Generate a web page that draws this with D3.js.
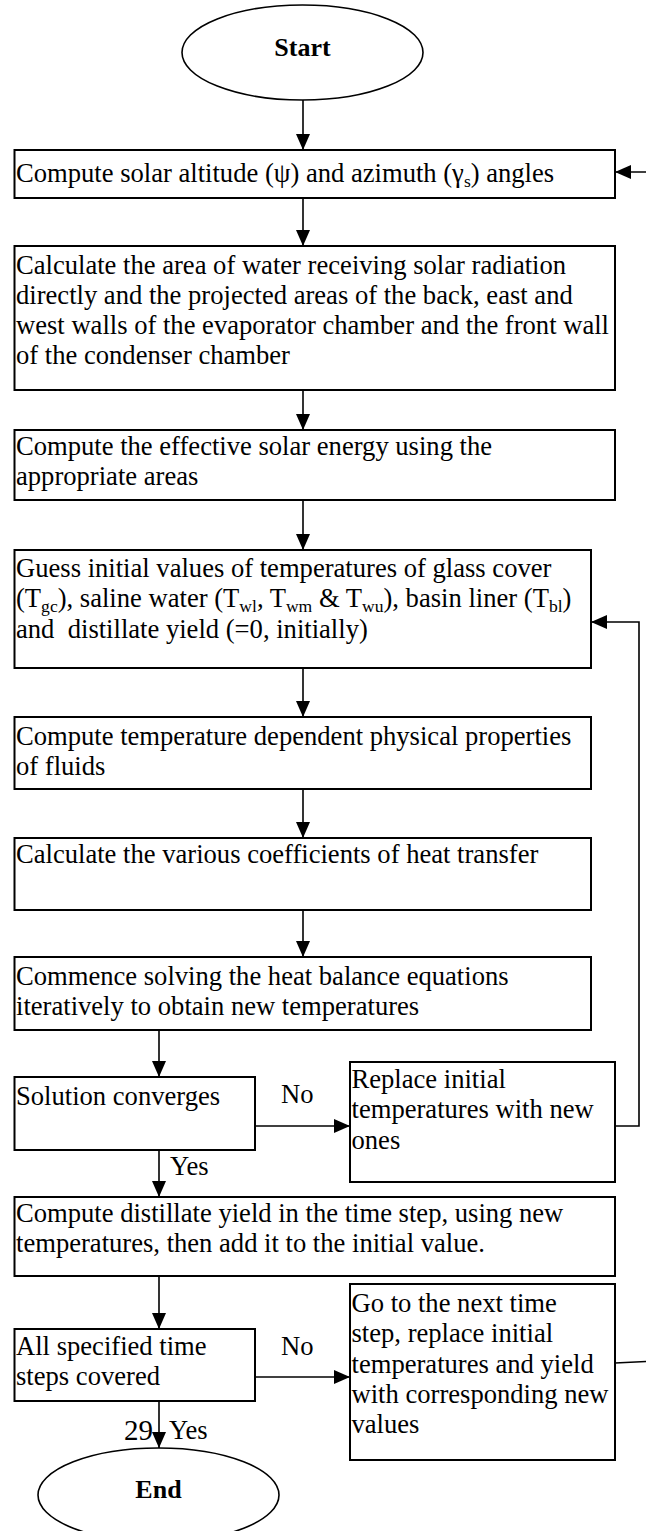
<!DOCTYPE html>
<html><head><meta charset="utf-8">
<script src="https://cdn.jsdelivr.net/npm/d3@7"></script>
<style>body{margin:0;background:#fff}svg{display:block}</style>
</head><body>
<script>
// ---- content ----
const terminalLabels = ["Start", "End"];
const stepLines = [
  ["Compute solar altitude (\u03C8) and azimuth (\u03B3_{s}) angles"],
  ["Calculate the area of water receiving solar radiation", "directly and the projected areas of the back, east and", "west walls of the evaporator chamber and the front wall", "of the condenser chamber"],
  ["Compute the effective solar energy using the", "appropriate areas"],
  ["Guess initial values of temperatures of glass cover", "(T_{gc}), saline water (T_{wl}, T_{wm} & T_{wu}), basin liner (T_{bl})", "and  distillate yield (=0, initially)"],
  ["Compute temperature dependent physical properties", "of fluids"],
  ["Calculate the various coefficients of heat transfer"],
  ["Commence solving the heat balance equations", "iteratively to obtain new temperatures"],
  ["Solution converges"],
  ["Replace initial", "temperatures with new", "ones"],
  ["Compute distillate yield in the time step, using new", "temperatures, then add it to the initial value."],
  ["All specified time", "steps covered"],
  ["Go to the next time", "step, replace initial", "temperatures and yield", "with corresponding new", "values"]
];
const edgeLabels = ["No", "Yes", "No", "Yes"];
const pageNumber = "29";

// ---- layout ----
const W = 646, H = 1531;
const FS = 26.6, LH = 30.3;
const boxes = [
  {x0:14.5, x1:615, y0:150, y1:198, b:182},
  {x0:14.5, x1:615, y0:246, y1:390, b:273.5},
  {x0:14.5, x1:615, y0:430, y1:500, b:455},
  {x0:14.5, x1:591, y0:550, y1:668, b:577},
  {x0:14.5, x1:591, y0:717, y1:789, b:745},
  {x0:14.5, x1:591, y0:838, y1:910, b:863},
  {x0:14.5, x1:591, y0:957, y1:1030, b:985},
  {x0:14.5, x1:255, y0:1077, y1:1150, b:1105},
  {x0:350, x1:615, y0:1062, y1:1182, b:1088},
  {x0:14.5, x1:615, y0:1197, y1:1276, b:1222},
  {x0:14.5, x1:255, y0:1329, y1:1401, b:1355},
  {x0:350, x1:615, y0:1284, y1:1460, b:1312}
];
const terminals = [{cx:302.5, cy:52.5, rx:120.5, ry:47.5, b:56}, {cx:158.5, cy:1495, rx:120.5, ry:47, b:1498}];

const svg = d3.select("body").append("svg").attr("width", W).attr("height", H);
const defs = svg.append("defs");
defs.append("marker").attr("id","ah").attr("viewBox","0 0 16 14").attr("refX",16).attr("refY",7)
  .attr("markerUnits","userSpaceOnUse").attr("markerWidth",16).attr("markerHeight",14).attr("orient","auto")
  .append("path").attr("d","M0,0L16,7L0,14Z").attr("fill","#000");

const font = "'Liberation Serif','Times New Roman',serif";

// arrows
const xA = 303, xB = 159;
const arrows = [
  [[xA, terminals[0].cy+terminals[0].ry],[xA, boxes[0].y0]],
  [[xA, boxes[0].y1],[xA, boxes[1].y0]],
  [[xA, boxes[1].y1],[xA, boxes[2].y0]],
  [[xA, boxes[2].y1],[xA, boxes[3].y0]],
  [[xA, boxes[3].y1],[xA, boxes[4].y0]],
  [[xA, boxes[4].y1],[xA, boxes[5].y0]],
  [[xA, boxes[5].y1],[xA, boxes[6].y0]],
  [[xB, boxes[6].y1],[xB, boxes[7].y0]],
  [[boxes[7].x1, 1126],[boxes[8].x0, 1126]],
  [[boxes[8].x1, 1126],[639, 1126],[639, 622],[boxes[3].x1, 622]],
  [[xB, boxes[7].y1],[xB, boxes[9].y0]],
  [[xB, boxes[9].y1],[xB, boxes[10].y0]],
  [[boxes[10].x1, 1377],[boxes[11].x0, 1377]],
  [[xB, boxes[10].y1],[xB, terminals[1].cy-terminals[1].ry]],
  [[boxes[11].x1, 1363],[680, 1360]],
  [[680, 172],[boxes[0].x1, 172]]
];
svg.append("g").selectAll("path").data(arrows).join("path")
  .attr("d", d => d3.line()(d)).attr("fill","none").attr("stroke","#000").attr("stroke-width",1.6)
  .attr("marker-end", (d,i) => i===14 ? null : "url(#ah)");

// boxes
svg.append("g").selectAll("rect").data(boxes).join("rect")
  .attr("x", d=>d.x0).attr("y", d=>d.y0).attr("width", d=>d.x1-d.x0).attr("height", d=>d.y1-d.y0)
  .attr("fill","#fff").attr("stroke","#000").attr("stroke-width",2);

// terminals
svg.append("g").selectAll("ellipse").data(terminals).join("ellipse")
  .attr("cx",d=>d.cx).attr("cy",d=>d.cy).attr("rx",d=>d.rx).attr("ry",d=>d.ry)
  .attr("fill","#fff").attr("stroke","#000").attr("stroke-width",1.6);
svg.append("g").selectAll("text").data(terminals).join("text")
  .attr("x",d=>d.cx).attr("y",d=>d.b).attr("text-anchor","middle")
  .attr("font-family",font).attr("font-weight","bold").attr("font-size",26)
  .text((d,i)=>terminalLabels[i]);

// rich text helper: "_{..}" marks a subscript
function addLine(sel, str) {
  const parts = str.split(/(_\{[^}]*\})/).filter(s=>s.length);
  let shifted = false;
  parts.forEach(p => {
    if (p.startsWith("_{")) {
      sel.append("tspan").attr("font-size", FS*0.66).attr("dy", 5).text(p.slice(2,-1));
      shifted = true;
    } else {
      const t = sel.append("tspan").text(p);
      if (shifted) { t.attr("dy", -5); shifted = false; }
    }
  });
}
const tg = svg.append("g").attr("font-family",font).attr("font-size",FS).attr("fill","#000");
boxes.forEach((b,i) => {
  stepLines[i].forEach((ln,j) => {
    const t = tg.append("text").attr("x", b.x0+1.5).attr("y", b.b + j*LH).style("white-space","pre");
    addLine(t, ln);
  });
});

// edge labels
const labelPos = [[281,1103],[170,1175],[281,1355],[169,1439]];
tg.selectAll("text.el").data(edgeLabels).join("text").attr("class","el")
  .attr("x",(d,i)=>labelPos[i][0]).attr("y",(d,i)=>labelPos[i][1]).text(d=>d);
tg.append("text").attr("x",153).attr("y",1440).attr("text-anchor","end").attr("font-size",29).text(pageNumber);
</script>
</body></html>
